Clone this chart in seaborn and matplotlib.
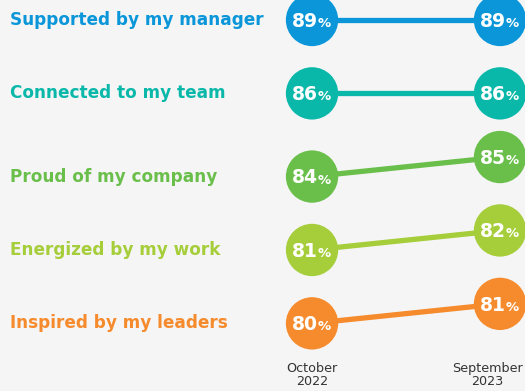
import matplotlib
matplotlib.use('Agg')
import matplotlib.pyplot as plt
import matplotlib.transforms as mtransforms
import pandas as pd
import seaborn as sns

# data
categories = ['Supported by my manager', 'Connected to my team', 'Proud of my company',
              'Energized by my work', 'Inspired by my leaders']
periods = ['October\n2022', 'September\n2023']
oct_2022 = [89, 86, 84, 81, 80]
sep_2023 = [89, 86, 85, 82, 81]
colors = ['#0a96d8', '#0ab8aa', '#6abf4b', '#a6cd3a', '#f58b2c']

# each category sits in its own row, tilted by the change in score
rows = []
for i, cat in enumerate(categories):
    mid = (oct_2022[i] + sep_2023[i]) / 2
    for j, val in enumerate([oct_2022[i], sep_2023[i]]):
        rows.append({'category': cat, 'period': j, 'value': val,
                     'ypos': i - (val - mid) * 0.266})
df = pd.DataFrame(rows)

sns.set_style('white')
fig = plt.figure(figsize=(5.25, 3.91), dpi=100, facecolor='#f5f5f6')
ax = fig.add_axes([0, 0, 1, 1])
ax.set_facecolor('#f5f5f6')

palette = dict(zip(categories, colors))
sns.lineplot(data=df, x='period', y='ypos', hue='category', palette=palette,
             linewidth=3.8, legend=False, ax=ax, zorder=1)
sns.scatterplot(data=df, x='period', y='ypos', hue='category', palette=palette,
                s=1420, linewidth=0, legend=False, ax=ax, zorder=2)

# percentage labels inside the circles
for _, r in df.iterrows():
    ax.annotate(f"{r['value']}", (r['period'], r['ypos']), xytext=(4, -1),
                textcoords='offset points', ha='right', va='center',
                color='white', fontsize=13.5, fontweight='bold', zorder=3)
    ax.annotate('%', (r['period'], r['ypos']), xytext=(4, -2.5),
                textcoords='offset points', ha='left', va='center',
                color='white', fontsize=9.5, fontweight='bold', zorder=3)

# category labels on the left, level with the first circle
trans = mtransforms.blended_transform_factory(ax.transAxes, ax.transData)
first = df[df['period'] == 0]
for i, (cat, y) in enumerate(zip(first['category'], first['ypos'])):
    ax.text(0.019, y, cat, transform=trans, ha='left', va='center',
            color=colors[i], fontsize=12.2, fontweight='bold')

# period labels under the columns
ax.annotate(periods[0], (0, 4.83), xytext=(0, 0), textcoords='offset points',
            ha='center', va='center', color='#333333', fontsize=9.2, linespacing=1.0)
ax.annotate(periods[1], (1, 4.83), xytext=(-9, 0), textcoords='offset points',
            ha='center', va='center', color='#333333', fontsize=9.2, linespacing=1.0)

ax.set_xlim(-1.66, 1.133)
ax.set_ylim(5.054, -0.272)
ax.axis('off')

fig.savefig('out.png', dpi=100, facecolor=fig.get_facecolor())
